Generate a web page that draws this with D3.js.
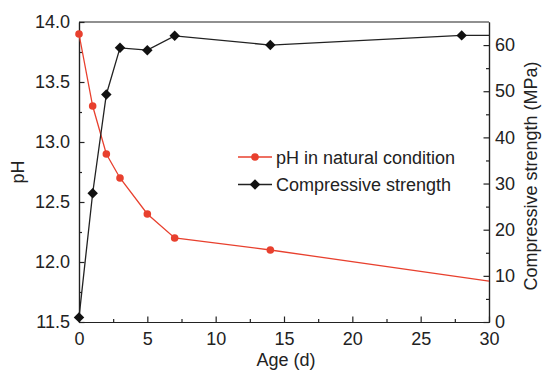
<!DOCTYPE html>
<html lang="en">
<head>
<meta charset="utf-8">
<title>pH and compressive strength</title>
<script src="https://d3js.org/d3.v7.min.js"></script>
<style>
  body { margin: 0; background: #fff; }
  svg text { font-family: "Liberation Sans", Arial, sans-serif; fill: #222; }
</style>
</head>
<body>
<div id="chart"></div>
<script>
// data
var phAges = [0, 1, 2, 3, 5, 7, 14, 30];
var phValues = [13.9, 13.3, 12.9, 12.7, 12.4, 12.2, 12.1, 11.84];
var phMarked = 7;            // the last point only continues the line

var strengthAges = [0, 1, 2, 3, 5, 7, 14, 28, 30];
var strengthValues = [1.0, 27.9, 49.3, 59.4, 58.9, 62.0, 60.0, 62.1, 62.1];
var strengthMarked = 8;

var xTicks = [0, 5, 10, 15, 20, 25, 30];
var phTicks = [11.5, 12.0, 12.5, 13.0, 13.5, 14.0];
var strengthTicks = [0, 10, 20, 30, 40, 50, 60];

var seriesNames = ["pH in natural condition", "Compressive strength"];

var w = 542, h = 378;
var margin = { top: 22, right: 53, bottom: 56, left: 79 };
var red = "#e8402e", dark = "#111";

var svg = d3.select("#chart").append("svg")
  .attr("width", w).attr("height", h);

var x = d3.scaleLinear().domain([0, 30]).range([margin.left, w - margin.right]);
var yL = d3.scaleLinear().domain([11.5, 14]).range([h - margin.bottom, margin.top]);
var yR = d3.scaleLinear().domain([0, 65]).range([h - margin.bottom, margin.top]);

var bottom = h - margin.bottom, right = w - margin.right;

// minor ticks first
svg.append("g").attr("transform", `translate(0,${bottom})`)
  .call(d3.axisBottom(x).tickValues(d3.range(2.5, 30, 5)).tickSize(-3).tickSizeOuter(0).tickFormat(""));
svg.append("g").attr("transform", `translate(${margin.left},0)`)
  .call(d3.axisLeft(yL).tickValues(d3.range(11.75, 14, 0.5)).tickSize(-3).tickSizeOuter(0).tickFormat(""));
svg.append("g").attr("transform", `translate(${right},0)`)
  .call(d3.axisRight(yR).tickValues(d3.range(5, 65, 10)).tickSize(-3).tickSizeOuter(0).tickFormat(""));

// major ticks
svg.append("g").attr("transform", `translate(0,${bottom})`)
  .call(d3.axisBottom(x).tickValues(xTicks).tickSize(-5.5).tickSizeOuter(0).tickPadding(10).tickFormat(d3.format("d")));
svg.append("g").attr("transform", `translate(${margin.left},0)`)
  .call(d3.axisLeft(yL).tickValues(phTicks).tickSize(-5.5).tickSizeOuter(0).tickPadding(9).tickFormat(d3.format(".1f")));
svg.append("g").attr("transform", `translate(${right},0)`)
  .call(d3.axisRight(yR).tickValues(strengthTicks).tickSize(-5.5).tickSizeOuter(0).tickPadding(6).tickFormat(d3.format("d")));

svg.selectAll(".tick line, .domain").attr("stroke", "#222").attr("stroke-width", 1.2);
svg.selectAll(".tick text").attr("font-size", "18px").attr("font-family", null);

// top border
svg.append("line")
  .attr("x1", margin.left).attr("x2", right)
  .attr("y1", margin.top).attr("y2", margin.top)
  .attr("stroke", "#222").attr("stroke-width", 1.2);

// axis titles
svg.append("text").attr("x", x(15) + 2).attr("y", 366)
  .attr("text-anchor", "middle").attr("font-size", "18px").text("Age (d)");
svg.append("text").attr("transform", `translate(24,${(margin.top + bottom) / 2}) rotate(-90)`)
  .attr("text-anchor", "middle").attr("font-size", "18px").text("pH");
svg.append("text").attr("transform", `translate(537,${(margin.top + bottom) / 2 + 4}) rotate(-90)`)
  .attr("text-anchor", "middle").attr("font-size", "18px").text("Compressive strength (MPa)");

var phData = phAges.map((a, i) => ({ a: a, v: phValues[i] }));
var strData = strengthAges.map((a, i) => ({ a: a, v: strengthValues[i] }));

var plot = svg.append("g");

plot.append("path").datum(phData)
  .attr("fill", "none").attr("stroke", red).attr("stroke-width", 1.3)
  .attr("d", d3.line().x(d => x(d.a)).y(d => yL(d.v)));
plot.append("path").datum(strData)
  .attr("fill", "none").attr("stroke", "#222").attr("stroke-width", 1.3)
  .attr("d", d3.line().x(d => x(d.a)).y(d => yR(d.v)));

var diamond = d3.symbol().type(d3.symbolDiamond2).size(70);

plot.selectAll("circle.ph").data(phData.slice(0, phMarked)).join("circle")
  .attr("class", "ph")
  .attr("cx", d => x(d.a)).attr("cy", d => yL(d.v)).attr("r", 3.8)
  .attr("fill", red);
plot.selectAll("path.str").data(strData.slice(0, strengthMarked)).join("path")
  .attr("class", "str")
  .attr("transform", d => `translate(${x(d.a)},${yR(d.v)})`)
  .attr("d", diamond)
  .attr("fill", dark);

// legend
var legend = svg.append("g");
var legendY = [157, 184.5];
legend.selectAll("line").data(seriesNames).join("line")
  .attr("x1", 238).attr("x2", 272)
  .attr("y1", (d, i) => legendY[i]).attr("y2", (d, i) => legendY[i])
  .attr("stroke", (d, i) => i == 0 ? red : "#222").attr("stroke-width", 1.3);
legend.append("circle").attr("cx", 255).attr("cy", legendY[0]).attr("r", 3.8).attr("fill", red);
legend.append("path").attr("transform", `translate(255,${legendY[1]})`).attr("d", diamond).attr("fill", dark);
legend.selectAll("text").data(seriesNames).join("text")
  .attr("x", 276).attr("y", (d, i) => legendY[i] + 6.5)
  .attr("font-size", "18px").text(d => d);
</script>
</body>
</html>
